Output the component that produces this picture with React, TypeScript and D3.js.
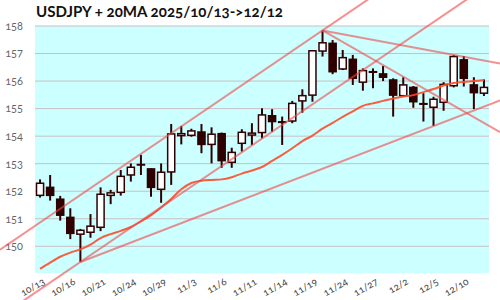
import React from "react";
import * as d3 from "d3";

const dates = [
  "10/13","10/14","10/15","10/16","10/17","10/20","10/21","10/22","10/23","10/24",
  "10/27","10/28","10/29","10/30","10/31","11/3","11/4","11/5","11/6","11/7",
  "11/10","11/11","11/12","11/13","11/14","11/17","11/18","11/19","11/20","11/21",
  "11/24","11/25","11/26","11/27","11/28","12/1","12/2","12/3","12/4","12/5",
  "12/8","12/9","12/10","12/11","12/12",
];

const opens = [
  151.85,152.14,151.71,151.05,150.44,150.51,150.69,151.85,151.96,152.59,
  152.97,152.81,152.07,152.70,154.02,154.03,154.15,153.70,154.09,153.05,
  153.74,154.04,154.13,154.74,154.52,154.55,155.28,155.49,157.09,157.37,
  156.44,156.79,155.96,156.34,156.26,156.04,155.47,155.77,155.18,155.05,
  155.23,155.83,156.77,155.86,155.56,
];
const highs = [
  152.43,152.59,151.83,151.38,150.63,151.17,152.14,152.05,152.77,153.01,
  153.32,152.83,153.01,154.44,154.37,154.27,154.44,154.32,154.13,153.58,
  154.25,154.47,155.01,154.98,154.71,155.28,155.70,157.12,157.84,157.49,
  157.13,156.95,156.46,156.46,156.55,156.10,156.14,155.82,155.56,155.43,
  155.96,156.95,156.91,156.14,156.06,
];
const lows = [
  151.77,151.66,150.93,150.26,149.43,150.31,150.55,151.53,151.84,152.35,
  152.59,151.80,151.58,152.23,153.70,153.98,153.38,153.01,152.85,152.85,
  153.44,153.68,153.92,154.16,153.68,154.47,154.85,155.25,156.89,156.25,
  156.40,155.86,155.65,155.74,156.00,154.71,155.43,155.03,154.53,154.37,
  154.92,155.77,155.80,154.98,155.46,
];
const closes = [
  152.29,151.85,151.13,150.47,150.58,150.73,151.89,151.94,152.54,152.87,
  152.96,152.14,152.69,154.08,154.09,154.19,153.70,154.07,153.11,153.41,
  154.14,154.11,154.77,154.53,154.50,155.19,155.47,157.10,157.39,156.34,
  156.85,156.10,156.38,156.32,156.14,155.49,155.86,155.25,155.16,155.34,
  155.88,156.89,156.10,155.58,155.77,
];
const ma20 = [
  149.18,149.41,149.62,149.77,149.89,150.06,150.30,150.44,150.56,150.70,
  150.90,151.13,151.41,151.72,152.07,152.30,152.38,152.41,152.43,152.51,
  152.64,152.75,152.88,153.10,153.32,153.56,153.82,154.02,154.27,154.48,
  154.70,154.90,155.10,155.19,155.28,155.37,155.44,155.49,155.60,155.71,
  155.84,155.93,155.97,156.00,156.04,
];
const yTicks = [150, 151, 152, 153, 154, 155, 156, 157, 158];
const labelEvery = 3;
const title = "USDJPY + 20MA 2025/10/13->12/12";

// trend lines: [index, value] anchor pairs; channel lines extend both ways, rays start at first anchor
const channelLines = [
  [[4, 151.86], [28, 157.84]],
  [[4, 149.43], [23, 154.16]],
];
const rayLines = [
  [[4, 149.43], [39, 154.37]],
  [[28, 157.84], [41, 156.95]],
  [[28, 157.84], [38, 155.74]],
];

const W = 500, H = 300;
const left = 35, right = 489, top = 26, bottom = 273;
const yMin = 149.03, yMax = 158;

export default function App() {
  const idx = dates.map((_, i) => i);
  const xb = d3.scaleBand<number>().domain(idx).range([left, right]).paddingInner(0.2).paddingOuter(0.1);
  const bw = xb.bandwidth();
  const cx = (i: number) => (xb(i) as number) + bw / 2;
  const xc = d3.scaleLinear().domain([0, dates.length - 1]).range([cx(0), cx(dates.length - 1)]);
  const y = d3.scaleLinear().domain([yMin, yMax]).range([bottom, top]);

  const ink = "#2e0000";
  const trendColor = "rgba(240,70,70,0.6)";

  const maLine = d3.line<number>().x((_, i) => cx(i)).y((d) => y(d)).curve(d3.curveMonotoneX);

  const segPath = (pts: number[][], full: boolean) => {
    const [[i1, v1], [i2, v2]] = pts;
    const slope = (v2 - v1) / (i2 - i1);
    const iStart = full ? xc.invert(0) : i1;
    const iEnd = xc.invert(W);
    const vs = v1 + slope * (iStart - i1);
    const ve = v1 + slope * (iEnd - i1);
    return `M${xc(iStart)},${y(vs)}L${xc(iEnd)},${y(ve)}`;
  };

  const font = "Lato, 'Open Sans', sans-serif";

  return (
    <svg width={W} height={H} style={{ position: "absolute", left: 0, top: 0, background: "#fff" }}>
      <rect x={left} y={top} width={right - left} height={bottom - top} fill="#ccffff" />
      {yTicks.map((t) => (
        <g key={t}>
          <line x1={left} x2={right} y1={y(t)} y2={y(t)} stroke="#c8c0c0" strokeWidth={1} />
          <text x={23} y={y(t)} dy="0.35em" textAnchor="end" fontSize={11} fill="#666"
            fontFamily={font} style={{ fontVariantNumeric: "oldstyle-nums" }}>{t}</text>
        </g>
      ))}
      <text x={36} y={17} fontSize={15} fontWeight="bold" fill="#111" fontFamily={font}
        textLength={247} lengthAdjust="spacingAndGlyphs"
        style={{ fontVariantNumeric: "oldstyle-nums" }}>{title}</text>

      {idx.map((i) => {
        const o = opens[i], c = closes[i];
        const up = c > o;
        const yt = y(Math.max(o, c)), ybt = y(Math.min(o, c));
        return (
          <g key={i}>
            <line x1={cx(i)} x2={cx(i)} y1={y(highs[i])} y2={y(lows[i])} stroke={ink} strokeWidth={2} />
            <rect x={cx(i) - bw / 2 + 0.5} y={yt} width={bw - 1} height={Math.max(0.5, ybt - yt)}
              fill={up ? "#fff" : ink} stroke={ink} strokeWidth={1.5} />
          </g>
        );
      })}

      <path d={maLine(ma20) || ""} fill="none" stroke="#ff4a2a" strokeOpacity={0.9} strokeWidth={2} />
      {channelLines.map((p, k) => (
        <path key={"c" + k} d={segPath(p, true)} stroke={trendColor} strokeWidth={2} fill="none" />
      ))}
      {rayLines.map((p, k) => (
        <path key={"r" + k} d={segPath(p, false)} stroke={trendColor} strokeWidth={2} fill="none" />
      ))}

      {idx.filter((i) => i % labelEvery === 0).map((i) => (
        <text key={i} transform={`translate(${cx(i) + 2},${277}) rotate(-30)`} textAnchor="end"
          dy="0.75em" fontSize={10} fill="#444" fontFamily={font}
          style={{ fontVariantNumeric: "oldstyle-nums" }}>{dates[i]}</text>
      ))}
    </svg>
  );
}
